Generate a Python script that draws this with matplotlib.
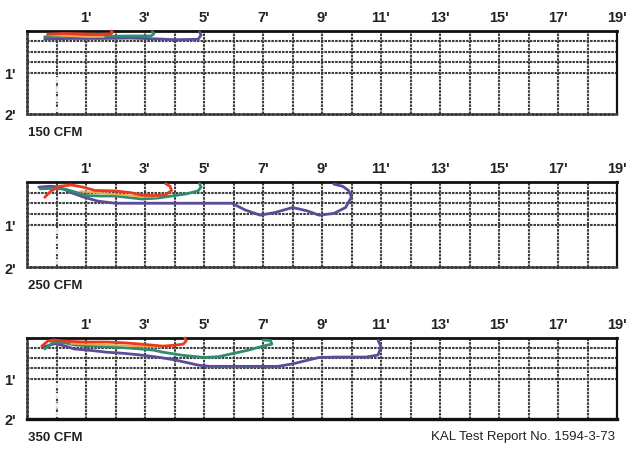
import matplotlib
matplotlib.use("Agg")
import matplotlib.pyplot as plt

plt.rcParams['font.family'] = ['Liberation Sans Narrow', 'Liberation Sans', 'DejaVu Sans']

# ---------------- data ----------------
x_ticks = [1, 3, 5, 7, 9, 11, 13, 15, 17, 19]
x_tick_labels = ["1'", "3'", "5'", "7'", "9'", "11'", "13'", "15'", "17'", "19'"]
y_ticks = [1, 2]
y_tick_labels = ["1'", "2'"]
grid_x = list(range(0, 19))
grid_y = [0.25, 0.5, 0.75, 1.0]
panel_labels = ["150 CFM", "250 CFM", "350 CFM"]
source_note = "KAL Test Report No. 1594-3-73"

# panel 1 : 150 CFM
p1_red_x = [-0.3, 0.2, 0.8, 1.4, 1.85, 1.9, 1.85]
p1_red_y = [0.08, 0.06, 0.07, 0.08, 0.07, 0.03, 0.0]
p1_orange_x = [-0.3, 0.5, 1.0, 1.6]
p1_orange_y = [0.10, 0.12, 0.14, 0.14]
p1_green_x = [-0.4, 0.5, 1.5, 2.5, 3.2, 3.3, 3.25]
p1_green_y = [0.14, 0.12, 0.13, 0.12, 0.12, 0.07, 0.02]
p1_purple_x = [-0.4, 0.5, 1.5, 2.5, 3.4, 4.0, 4.8, 4.9, 4.85]
p1_purple_y = [0.19, 0.18, 0.18, 0.17, 0.19, 0.21, 0.20, 0.10, 0.02]

# panel 2 : 250 CFM
p2_red_x = [-0.4, -0.2, 0.1, 0.5, 0.9, 1.3, 2.0, 2.5, 2.9, 3.3, 3.7, 3.9, 3.85, 3.7]
p2_red_y = [0.36, 0.22, 0.10, 0.07, 0.12, 0.20, 0.21, 0.25, 0.31, 0.32, 0.30, 0.20, 0.10, 0.04]
p2_orange_x = [0.8, 1.5, 2.2, 2.8, 3.4]
p2_orange_y = [0.22, 0.26, 0.30, 0.34, 0.35]
p2_green_x = [-0.55, -0.1, 0.3, 0.7, 1.0, 1.5, 2.0, 2.5, 2.9, 3.4, 3.9, 4.4, 4.8, 4.9, 4.85]
p2_green_y = [0.16, 0.15, 0.17, 0.25, 0.32, 0.33, 0.33, 0.37, 0.40, 0.38, 0.33, 0.28, 0.21, 0.12, 0.04]
p2_purple_x = [-0.6, -0.2, 0.1, 0.5, 0.9, 1.4, 2.0, 3.0, 4.0, 5.0, 5.95, 6.4, 6.9, 7.4,
               8.0, 8.5, 8.9, 9.4, 9.8, 10.0, 9.9, 9.7, 9.4]
p2_purple_y = [0.12, 0.10, 0.12, 0.25, 0.35, 0.45, 0.50, 0.50, 0.50, 0.50, 0.50, 0.66, 0.78, 0.72,
               0.60, 0.68, 0.78, 0.74, 0.60, 0.35, 0.20, 0.10, 0.05]

# panel 3 : 350 CFM
p3_red_x = [-0.5, -0.3, -0.1, 0.3, 1.0, 1.7, 2.3, 2.85, 3.3, 3.6, 4.0, 4.3, 4.4, 4.35]
p3_red_y = [0.20, 0.08, 0.05, 0.08, 0.10, 0.10, 0.12, 0.15, 0.18, 0.20, 0.18, 0.15, 0.07, 0.0]
p3_orange_x = [0.5, 1.2, 2.0, 2.8, 3.5]
p3_orange_y = [0.14, 0.16, 0.18, 0.20, 0.22]
p3_green_x = [-0.4, -0.1, 0.3, 0.6, 1.2, 1.7, 2.3, 2.85, 3.3, 3.6, 4.3, 5.0, 5.5, 6.0,
              6.5, 6.9, 7.3, 7.25, 7.0]
p3_green_y = [0.27, 0.10, 0.12, 0.17, 0.20, 0.22, 0.24, 0.27, 0.30, 0.35, 0.43, 0.48, 0.46, 0.38,
              0.30, 0.22, 0.15, 0.06, 0.05]
p3_purple_x = [-0.45, -0.05, 0.3, 0.6, 1.2, 1.7, 2.3, 2.85, 3.5, 4.0, 4.5, 4.8, 5.2, 6.0, 7.0,
               7.5, 8.0, 8.5, 8.9, 9.5, 10.0, 10.5, 10.9, 11.0, 10.9]
p3_purple_y = [0.22, 0.14, 0.20, 0.27, 0.31, 0.35, 0.38, 0.42, 0.48, 0.54, 0.62, 0.67, 0.70, 0.70, 0.70,
               0.70, 0.64, 0.55, 0.48, 0.47, 0.47, 0.47, 0.42, 0.22, 0.05]

panels = [
    [(p1_red_x, p1_red_y), (p1_orange_x, p1_orange_y), (p1_green_x, p1_green_y), (p1_purple_x, p1_purple_y)],
    [(p2_red_x, p2_red_y), (p2_orange_x, p2_orange_y), (p2_green_x, p2_green_y), (p2_purple_x, p2_purple_y)],
    [(p3_red_x, p3_red_y), (p3_orange_x, p3_orange_y), (p3_green_x, p3_green_y), (p3_purple_x, p3_purple_y)],
]
colors = ['#e83a1e', '#f2a64a', '#2f8c6c', '#5a4c98']
widths = [2.0, 1.4, 2.0, 2.0]
draw_order = [3, 2, 1, 0]

# ---------------- layout ----------------
W, H = 629, 452
fig = plt.figure(figsize=(W / 100, H / 100), dpi=100)
left = 27 / W
width = (617 - 27) / W
boxes = [(32, 115), (183, 268), (339, 420)]

grid_color = '#3c3c3c'
grid_ls = (0, (1.2, 0.5))

for i, (top, bot) in enumerate(boxes):
    ax = fig.add_axes([left, 1 - bot / H, width, (bot - top) / H])
    ax.set_xlim(-1, 19)
    ax.set_ylim(2, 0)
    for gx in grid_x:
        ax.axvline(gx, color=grid_color, lw=1.5, ls=grid_ls, zorder=1)
    for gy in grid_y:
        ax.axhline(gy, color=grid_color, lw=1.5, ls=grid_ls, zorder=1)
    ax.plot([0, 0], [1.1, 1.95], color='white', lw=1.2, ls=(0, (3, 3)), zorder=2)

    for k in draw_order:
        xs, ys = panels[i][k]
        ax.plot(xs, ys, color=colors[k], lw=widths[k], solid_capstyle='round',
                solid_joinstyle='round', zorder=3, clip_on=False)

    ax.xaxis.tick_top()
    ax.set_xticks(x_ticks)
    ax.set_xticklabels(x_tick_labels, fontsize=10.5, fontweight='bold', color='#222222')
    ax.set_yticks(y_ticks)
    ax.set_yticklabels(y_tick_labels, fontsize=10.5, fontweight='bold', color='#222222')
    ax.tick_params(axis='both', length=0)
    ax.tick_params(axis='x', pad=5)
    ax.tick_params(axis='y', pad=8)

    ax.spines['top'].set_linewidth(2.0)
    ax.spines['top'].set_color('#111111')
    ax.spines['right'].set_linewidth(1.6)
    ax.spines['right'].set_color('#111111')
    ax.spines['left'].set_linewidth(1.8)
    ax.spines['left'].set_color(grid_color)
    ax.spines['left'].set_linestyle(grid_ls)
    if i == 2:
        ax.spines['bottom'].set_linewidth(2.4)
        ax.spines['bottom'].set_color('#111111')
    else:
        ax.spines['bottom'].set_linewidth(1.8)
        ax.spines['bottom'].set_color(grid_color)
        ax.spines['bottom'].set_linestyle(grid_ls)

    fig.text(28 / W, 1 - (bot + 18) / H, panel_labels[i], fontsize=9.5,
             fontweight='bold', color='#222222', ha='left', va='center')

fig.text(615 / W, 1 - 437 / H, source_note, fontsize=9.5, color='#222222',
         ha='right', va='center')

fig.savefig('out.png', dpi=100, facecolor='white')
